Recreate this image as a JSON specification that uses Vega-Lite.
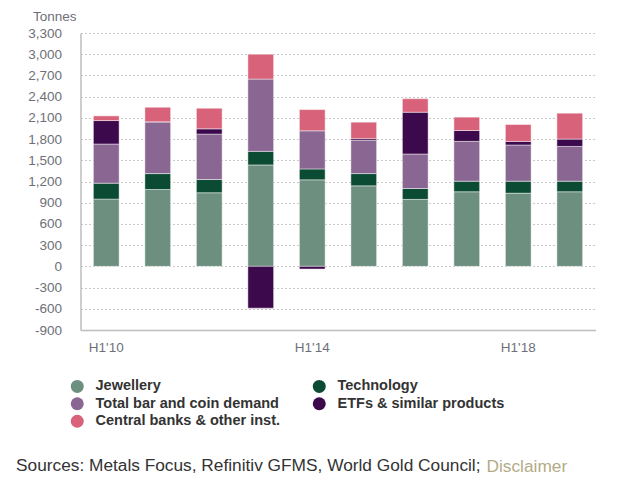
{
  "$schema": "https://vega.github.io/schema/vega-lite/v6.json",
  "width": 515,
  "height": 297,
  "autosize": "none",
  "padding": {"left": 80.5, "top": 33, "right": 48.5, "bottom": 148},
  "background": "white",
  "config": {
    "font": "Liberation Sans",
    "view": {"stroke": null},
    "axis": {"labelFont": "Liberation Sans", "titleFont": "Liberation Sans"}
  },
  "title": {
    "text": "Sources: Metals Focus, Refinitiv GFMS, World Gold Council;",
    "orient": "bottom",
    "anchor": "start",
    "frame": "group",
    "baseline": "alphabetic",
    "fontSize": 17.3,
    "fontWeight": "normal",
    "color": "#333333",
    "font": "Liberation Sans",
    "dx": -64.5,
    "offset": -4.5
  },
  "data": {
    "values": [
      {"period": "H1'10", "cat": "Jewellery", "ord": 1, "v": 951},
      {"period": "H1'10", "cat": "Technology", "ord": 2, "v": 225},
      {"period": "H1'10", "cat": "Total bar and coin demand", "ord": 3, "v": 554},
      {"period": "H1'10", "cat": "ETFs & similar products", "ord": 4, "v": 332},
      {"period": "H1'10", "cat": "Central banks & other inst.", "ord": 5, "v": 66},
      {"period": "H1'11", "cat": "Jewellery", "ord": 1, "v": 1087},
      {"period": "H1'11", "cat": "Technology", "ord": 2, "v": 225},
      {"period": "H1'11", "cat": "Total bar and coin demand", "ord": 3, "v": 732},
      {"period": "H1'11", "cat": "ETFs & similar products", "ord": 4, "v": 0},
      {"period": "H1'11", "cat": "Central banks & other inst.", "ord": 5, "v": 206},
      {"period": "H1'12", "cat": "Jewellery", "ord": 1, "v": 1041},
      {"period": "H1'12", "cat": "Technology", "ord": 2, "v": 187},
      {"period": "H1'12", "cat": "Total bar and coin demand", "ord": 3, "v": 642},
      {"period": "H1'12", "cat": "ETFs & similar products", "ord": 4, "v": 75},
      {"period": "H1'12", "cat": "Central banks & other inst.", "ord": 5, "v": 291},
      {"period": "H1'13", "cat": "Jewellery", "ord": 1, "v": 1434},
      {"period": "H1'13", "cat": "Technology", "ord": 2, "v": 192},
      {"period": "H1'13", "cat": "Total bar and coin demand", "ord": 3, "v": 1022},
      {"period": "H1'13", "cat": "ETFs & similar products", "ord": 4, "v": -591},
      {"period": "H1'13", "cat": "Central banks & other inst.", "ord": 5, "v": 352},
      {"period": "H1'14", "cat": "Jewellery", "ord": 1, "v": 1224},
      {"period": "H1'14", "cat": "Technology", "ord": 2, "v": 154},
      {"period": "H1'14", "cat": "Total bar and coin demand", "ord": 3, "v": 539},
      {"period": "H1'14", "cat": "ETFs & similar products", "ord": 4, "v": -38},
      {"period": "H1'14", "cat": "Central banks & other inst.", "ord": 5, "v": 300},
      {"period": "H1'15", "cat": "Jewellery", "ord": 1, "v": 1139},
      {"period": "H1'15", "cat": "Technology", "ord": 2, "v": 173},
      {"period": "H1'15", "cat": "Total bar and coin demand", "ord": 3, "v": 468},
      {"period": "H1'15", "cat": "ETFs & similar products", "ord": 4, "v": 25},
      {"period": "H1'15", "cat": "Central banks & other inst.", "ord": 5, "v": 234},
      {"period": "H1'16", "cat": "Jewellery", "ord": 1, "v": 947},
      {"period": "H1'16", "cat": "Technology", "ord": 2, "v": 154},
      {"period": "H1'16", "cat": "Total bar and coin demand", "ord": 3, "v": 488},
      {"period": "H1'16", "cat": "ETFs & similar products", "ord": 4, "v": 591},
      {"period": "H1'16", "cat": "Central banks & other inst.", "ord": 5, "v": 191},
      {"period": "H1'17", "cat": "Jewellery", "ord": 1, "v": 1055},
      {"period": "H1'17", "cat": "Technology", "ord": 2, "v": 149},
      {"period": "H1'17", "cat": "Total bar and coin demand", "ord": 3, "v": 563},
      {"period": "H1'17", "cat": "ETFs & similar products", "ord": 4, "v": 154},
      {"period": "H1'17", "cat": "Central banks & other inst.", "ord": 5, "v": 189},
      {"period": "H1'18", "cat": "Jewellery", "ord": 1, "v": 1035},
      {"period": "H1'18", "cat": "Technology", "ord": 2, "v": 169},
      {"period": "H1'18", "cat": "Total bar and coin demand", "ord": 3, "v": 512},
      {"period": "H1'18", "cat": "ETFs & similar products", "ord": 4, "v": 51},
      {"period": "H1'18", "cat": "Central banks & other inst.", "ord": 5, "v": 239},
      {"period": "H1'19", "cat": "Jewellery", "ord": 1, "v": 1055},
      {"period": "H1'19", "cat": "Technology", "ord": 2, "v": 149},
      {"period": "H1'19", "cat": "Total bar and coin demand", "ord": 3, "v": 492},
      {"period": "H1'19", "cat": "ETFs & similar products", "ord": 4, "v": 104},
      {"period": "H1'19", "cat": "Central banks & other inst.", "ord": 5, "v": 366}
    ]
  },
  "mark": {"type": "bar", "stroke": "white", "strokeWidth": 1, "strokeOpacity": 0.45},
  "encoding": {
    "x": {
      "field": "period",
      "type": "nominal",
      "sort": null,
      "scale": {"paddingInner": 0.5, "paddingOuter": 0.25},
      "axis": {
        "title": "Disclaimer",
        "titleX": 405.5,
        "titleY": 141.7,
        "titleAlign": "left",
        "titleAnchor": null,
        "titleBaseline": "alphabetic",
        "titleFontSize": 17.3,
        "titleFontWeight": "normal",
        "titleColor": "#b3ab86",
        "labelAngle": 0,
        "labelFontSize": 13.5,
        "labelColor": "#6e7078",
        "labelPadding": 10,
        "labelExpr": "(datum.value == \"H1'10\" || datum.value == \"H1'14\" || datum.value == \"H1'18\") ? datum.value : ''",
        "ticks": false,
        "domainColor": "#bdbdbd",
        "domainWidth": 1.5,
        "grid": false,
        "offset": 0
      }
    },
    "y": {
      "field": "v",
      "type": "quantitative",
      "stack": "zero",
      "scale": {"domain": [-900, 3300], "nice": false, "zero": false},
      "axis": {
        "values": [-900, -600, -300, 0, 300, 600, 900, 1200, 1500, 1800, 2100, 2400, 2700, 3000, 3300],
        "format": ",d",
        "labelExpr": "replace(datum.label, '−', '-')",
        "title": "Tonnes",
        "titleAngle": 0,
        "titleX": -48,
        "titleY": -17,
        "titleAlign": "left",
        "titleAnchor": null,
        "titleBaseline": "middle",
        "titleFontSize": 13.5,
        "titleFontWeight": "normal",
        "titleColor": "#6e7078",
        "labelFontSize": 13.5,
        "labelColor": "#6e7078",
        "labelPadding": 19,
        "ticks": false,
        "domainColor": "#bdbdbd",
        "domainWidth": 1.5,
        "grid": true,
        "gridColor": "#c8c8c8",
        "gridDash": [2, 2],
        "gridWidth": 1
      }
    },
    "color": {
      "field": "cat",
      "type": "nominal",
      "scale": {
        "domain": ["Jewellery", "Technology", "Total bar and coin demand", "ETFs & similar products", "Central banks & other inst."],
        "range": ["#6c8f7f", "#0b4a33", "#8a6693", "#3c0a4c", "#d8627a"]
      },
      "legend": {
        "title": null,
        "orient": "none",
        "direction": "horizontal",
        "legendX": -10.5,
        "legendY": 346,
        "columns": 2,
        "symbolType": "circle",
        "symbolSize": 169,
        "symbolStrokeWidth": 0,
        "labelFont": "Liberation Sans",
        "labelFontSize": 14.5,
        "labelFontWeight": "bold",
        "labelColor": "#333333",
        "labelOffset": 11,
        "labelLimit": 400,
        "columnPadding": 31,
        "rowPadding": 2.5
      }
    },
    "order": {"field": "ord", "type": "quantitative"}
  }
}
